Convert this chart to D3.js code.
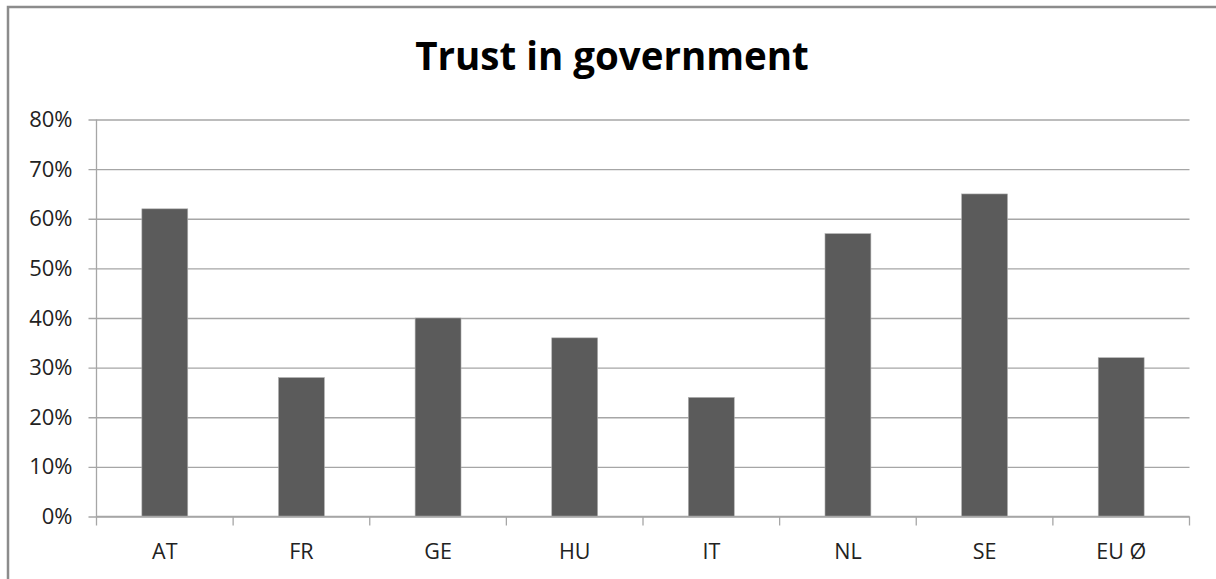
<!DOCTYPE html>
<html>
<head>
<meta charset="utf-8">
<script src="https://cdn.jsdelivr.net/npm/d3@7"></script>
<style>
  html, body { margin: 0; padding: 0; background: #fff; }
  svg { display: block; font-family: "Open Sans", "DejaVu Sans", sans-serif; }
</style>
</head>
<body>
<svg id="chart" width="1216" height="579"></svg>
<script>
// data
var categories = ["AT", "FR", "GE", "HU", "IT", "NL", "SE", "EU \u00D8"];
var trust = [0.62, 0.28, 0.40, 0.36, 0.24, 0.57, 0.65, 0.32];
var yTicks = [0, 0.1, 0.2, 0.3, 0.4, 0.5, 0.6, 0.7, 0.8];
var title = "Trust in government";

var svg = d3.select("#chart");
var plotL = 96.5, plotR = 1189.5, plotT = 119.5, plotB = 516.5;
var gridColor = "#a6a6a6";

// outer frame (only top and left edges fall in view)
svg.append("path")
  .attr("d", "M8,590 L8,7 L1220,7")
  .attr("fill", "none")
  .attr("stroke", "#8c8c8c")
  .attr("stroke-width", 2.5);

svg.append("text")
  .attr("x", 612)
  .attr("y", 70)
  .attr("text-anchor", "middle")
  .attr("font-size", 38.5)
  .attr("font-weight", "bold")
  .attr("fill", "#000")
  .text(title);

var x = d3.scaleBand().domain(categories).range([plotL, plotR]).paddingInner(0.664).paddingOuter(0.332);
var xc = d3.scaleBand().domain(categories).range([plotL, plotR]);
var y = d3.scaleLinear().domain([0, 0.8]).range([plotB, plotT]);

// gridlines + y ticks
var yAxis = d3.axisLeft(y)
  .tickValues(yTicks)
  .tickFormat(d3.format(".0%"))
  .tickSize(-(plotR - plotL))
  .tickSizeOuter(0)
  .tickPadding(24);

var gy = svg.append("g").attr("transform", "translate(" + plotL + ",0)").call(yAxis);
gy.select(".domain").remove();
gy.selectAll(".tick line")
  .attr("x1", -8)
  .attr("stroke", gridColor)
  .attr("stroke-width", 1.3);
gy.selectAll(".tick text")
  .attr("font-size", 22)
  .attr("fill", "#222")
  .attr("font-family", "'Open Sans', sans-serif");

// bars
svg.append("g").selectAll("rect")
  .data(trust)
  .join("rect")
  .attr("x", function (d, i) { return x(categories[i]); })
  .attr("y", function (d) { return y(d); })
  .attr("width", x.bandwidth())
  .attr("height", function (d) { return plotB - y(d); })
  .attr("fill", "#5b5b5b")
  .attr("stroke", "#b0b0b0")
  .attr("stroke-width", 0.6);

// vertical axis line
svg.append("line")
  .attr("x1", plotL).attr("x2", plotL)
  .attr("y1", plotT).attr("y2", plotB)
  .attr("stroke", gridColor).attr("stroke-width", 1.3);

// category axis with ticks between categories
var xAxis = d3.axisBottom(xc).tickSize(0).tickPadding(27);
var gx = svg.append("g").attr("transform", "translate(0," + plotB + ")").call(xAxis);
gx.select(".domain").attr("stroke", gridColor).attr("stroke-width", 1.3).attr("d", "M" + plotL + ",0H" + plotR);
gx.selectAll(".tick text")
  .attr("font-size", 21.5)
  .attr("fill", "#222")
  .attr("font-family", "'Open Sans', sans-serif");

var bounds = categories.map(function (c) { return xc(c); }).concat([plotR]);
gx.selectAll(".sep")
  .data(bounds)
  .join("line")
  .attr("class", "sep")
  .attr("x1", function (d) { return d; })
  .attr("x2", function (d) { return d; })
  .attr("y1", 0).attr("y2", 9)
  .attr("stroke", gridColor).attr("stroke-width", 1.3);
</script>
</body>
</html>
